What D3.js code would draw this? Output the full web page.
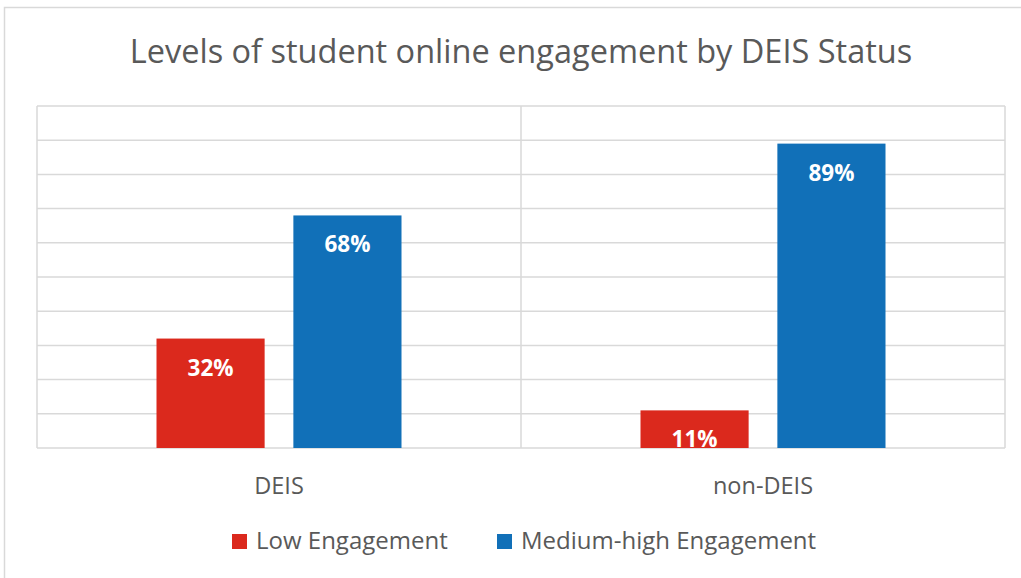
<!DOCTYPE html>
<html>
<head>
<meta charset="utf-8">
<script src="https://cdn.jsdelivr.net/npm/d3@7"></script>
<style>
  body { margin: 0; background: #fff; }
  text { font-family: "Open Sans", "Noto Sans", sans-serif; }
</style>
</head>
<body>
<div id="chart"></div>
<script>
// data
var categories = ["DEIS", "non-DEIS"];
var seriesNames = ["Low Engagement", "Medium-high Engagement"];
var lowValues = [32, 11];
var highValues = [68, 89];
var yTicks = [0, 10, 20, 30, 40, 50, 60, 70, 80, 90, 100];

var colors = ["#db291d", "#1170b8"];

var W = 1021, H = 578;
var margin = {top: 106, right: 16, bottom: 130, left: 37},
    width = 1005 - margin.left,
    height = 448 - margin.top;

var svg = d3.select("#chart").append("svg")
    .attr("width", W)
    .attr("height", H);

// outer frame
svg.append("rect")
    .attr("x", 4.5).attr("y", 7.5)
    .attr("width", W + 10).attr("height", H)
    .style("fill", "#fff")
    .style("stroke", "#d9d9d9")
    .style("stroke-width", 1.5);

svg.append("text")
    .attr("x", 521).attr("y", 63)
    .attr("text-anchor", "middle")
    .style("font-size", "32.5px")
    .style("fill", "#595959")
    .text("Levels of student online engagement by DEIS Status");

var g = svg.append("g")
    .attr("transform", "translate(" + margin.left + "," + margin.top + ")");

var x0 = d3.scaleBand().domain(categories).range([0, width]);
var x1 = d3.scaleBand().domain(seriesNames).range([0, 245]).paddingInner(0.21);
var y = d3.scaleLinear().domain([0, 100]).range([height, 0]);

// grid
g.selectAll(".grid").data(yTicks).enter().append("line")
    .attr("x1", 0).attr("x2", width)
    .attr("y1", function(d) { return y(d); })
    .attr("y2", function(d) { return y(d); })
    .style("stroke", "#d9d9d9")
    .style("stroke-width", 1.5);

// category dividers
g.selectAll(".div").data([0, 1, 2]).enter().append("line")
    .attr("x1", function(d) { return d * x0.bandwidth(); })
    .attr("x2", function(d) { return d * x0.bandwidth(); })
    .attr("y1", 0).attr("y2", height)
    .style("stroke", "#d9d9d9")
    .style("stroke-width", 1.5);

var rows = categories.map(function(c, i) {
    return [{s: seriesNames[0], v: lowValues[i], c: 0}, {s: seriesNames[1], v: highValues[i], c: 1}];
});

var groups = g.selectAll(".grp").data(rows).enter().append("g")
    .attr("transform", function(d, i) {
        return "translate(" + (x0(categories[i]) + x0.bandwidth() / 2 - 122.5) + ",0)";
    });

groups.selectAll("rect").data(function(d) { return d; }).enter().append("rect")
    .attr("x", function(d) { return x1(d.s); })
    .attr("y", function(d) { return y(d.v); })
    .attr("width", x1.bandwidth())
    .attr("height", function(d) { return height - y(d.v); })
    .style("fill", function(d) { return colors[d.c]; });

groups.selectAll(".lbl").data(function(d) { return d; }).enter().append("text")
    .attr("x", function(d) { return x1(d.s) + x1.bandwidth() / 2; })
    .attr("y", function(d) { return y(d.v) + 37; })
    .attr("text-anchor", "middle")
    .style("font-size", "22.5px")
    .style("font-weight", "bold")
    .style("fill", "#fff")
    .text(function(d) { return d.v + "%"; });

// x labels
g.selectAll(".xl").data(categories).enter().append("text")
    .attr("x", function(d) { return x0(d) + x0.bandwidth() / 2; })
    .attr("y", height + 46)
    .attr("text-anchor", "middle")
    .style("font-size", "23.5px")
    .style("fill", "#595959")
    .text(function(d) { return d; });

// legend
var legX = [232, 497];
var leg = svg.selectAll(".leg").data(seriesNames).enter().append("g")
    .attr("transform", function(d, i) { return "translate(" + legX[i] + ",534)"; });
leg.append("rect")
    .attr("width", 15).attr("height", 15)
    .style("fill", function(d, i) { return colors[i]; });
leg.append("text")
    .attr("x", 24).attr("y", 15)
    .style("font-size", "24px")
    .style("fill", "#595959")
    .text(function(d) { return d; });
</script>
</body>
</html>
